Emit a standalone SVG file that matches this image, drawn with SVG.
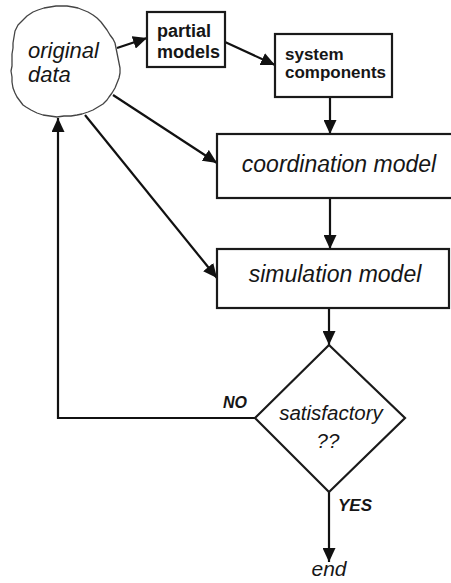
<svg xmlns="http://www.w3.org/2000/svg" width="451" height="583" viewBox="0 0 451 583">
  <style>
    .box { fill: #fff; stroke: #1a1a1a; stroke-width: 2.2; }
    .blob { fill: #fff; stroke: #444; stroke-width: 1.3; stroke-linejoin: round; }
    .conn { fill: none; stroke: #111; stroke-width: 2.2; }
    .lbl { font-family: "Liberation Sans", Arial, sans-serif; fill: #161616; }
    .it { font-style: italic; }
    .bd { font-weight: bold; }
  </style>
  <defs>
    <marker id="arrow" markerUnits="userSpaceOnUse" markerWidth="14" markerHeight="13" refX="14" refY="6.5" orient="auto">
      <path d="M0,0 L14,6.5 L0,13 z" fill="#111"/>
    </marker>
  </defs>

  <!-- connectors -->
  <g id="connectors">
    <line class="conn" x1="117" y1="48" x2="147" y2="38" marker-end="url(#arrow)"/>
    <line class="conn" x1="225" y1="42" x2="275" y2="65" marker-end="url(#arrow)"/>
    <line class="conn" x1="330" y1="97" x2="330" y2="134" marker-end="url(#arrow)"/>
    <line class="conn" x1="113" y1="95" x2="217" y2="163" marker-end="url(#arrow)"/>
    <line class="conn" x1="85" y1="115" x2="217" y2="278" marker-end="url(#arrow)"/>
    <line class="conn" x1="330" y1="198" x2="330" y2="249" marker-end="url(#arrow)"/>
    <line class="conn" x1="329" y1="308" x2="329" y2="345" marker-end="url(#arrow)"/>
    <line class="conn" x1="329" y1="492" x2="329" y2="562" marker-end="url(#arrow)"/>
    <polyline class="conn" points="255,418 58,418 58,118" marker-end="url(#arrow)"/>
  </g>

  <!-- hand-drawn data cloud -->
  <g id="original-data">
    <path class="blob" d="M18,25 L22,21 L27,16 L33,12 L38,10 L44,8 L50,7 L56,6 L62,6 L67,6 L73,7 L78,8 L83,10 L88,12 L93,15 L97,18 L101,22 L104,26 L107,30 L110,35 L113,39 L115,43 L116,48 L117,53 L118,58 L119,63 L120,68 L120,73 L119,78 L117,83 L115,88 L112,93 L109,97 L107,100 L103,104 L98,107 L93,110 L88,112 L82,114 L77,115 L71,116 L64,116 L57,117 L50,116 L43,115 L37,113 L31,110 L26,107 L23,105 L20,101 L17,97 L15,93 L13,88 L12,82 L12,77 L11,71 L12,66 L12,60 L12,54 L13,48 L13,43 L14,37 L15,31 Z"/>
    <text class="lbl it" x="28" y="58" font-size="22">original</text>
    <text class="lbl it" x="28" y="82" font-size="22">data</text>
  </g>

  <g id="partial-models">
    <rect class="box" x="147" y="12" width="78" height="55"/>
    <text class="lbl bd" x="157" y="37" font-size="18">partial</text>
    <text class="lbl bd" x="157" y="58" font-size="18">models</text>
  </g>

  <g id="system-components">
    <rect class="box" x="275" y="34" width="117" height="63"/>
    <text class="lbl bd" x="285" y="60" font-size="17">system</text>
    <text class="lbl bd" x="285" y="78" font-size="17">components</text>
  </g>

  <g id="coordination-model">
    <rect class="box" x="217" y="134" width="240" height="64"/>
    <text class="lbl it" x="339" y="172" font-size="23" text-anchor="middle">coordination model</text>
  </g>

  <g id="simulation-model">
    <rect class="box" x="217" y="249" width="232" height="59"/>
    <text class="lbl it" x="335" y="282" font-size="23" text-anchor="middle">simulation model</text>
  </g>

  <g id="satisfactory">
    <polygon class="box" points="329,345 405,418 329,492 255,418"/>
    <text class="lbl it" x="331" y="420" font-size="20.5" text-anchor="middle">satisfactory</text>
    <text class="lbl it" x="328" y="448" font-size="20.5" text-anchor="middle">??</text>
  </g>

  <g id="branch-labels">
    <text class="lbl it bd" x="223" y="408" font-size="16">NO</text>
    <text class="lbl it bd" x="338" y="511" font-size="17">YES</text>
  </g>

  <g id="end">
    <text class="lbl it" x="329" y="576" font-size="21" text-anchor="middle">end</text>
  </g>
</svg>
